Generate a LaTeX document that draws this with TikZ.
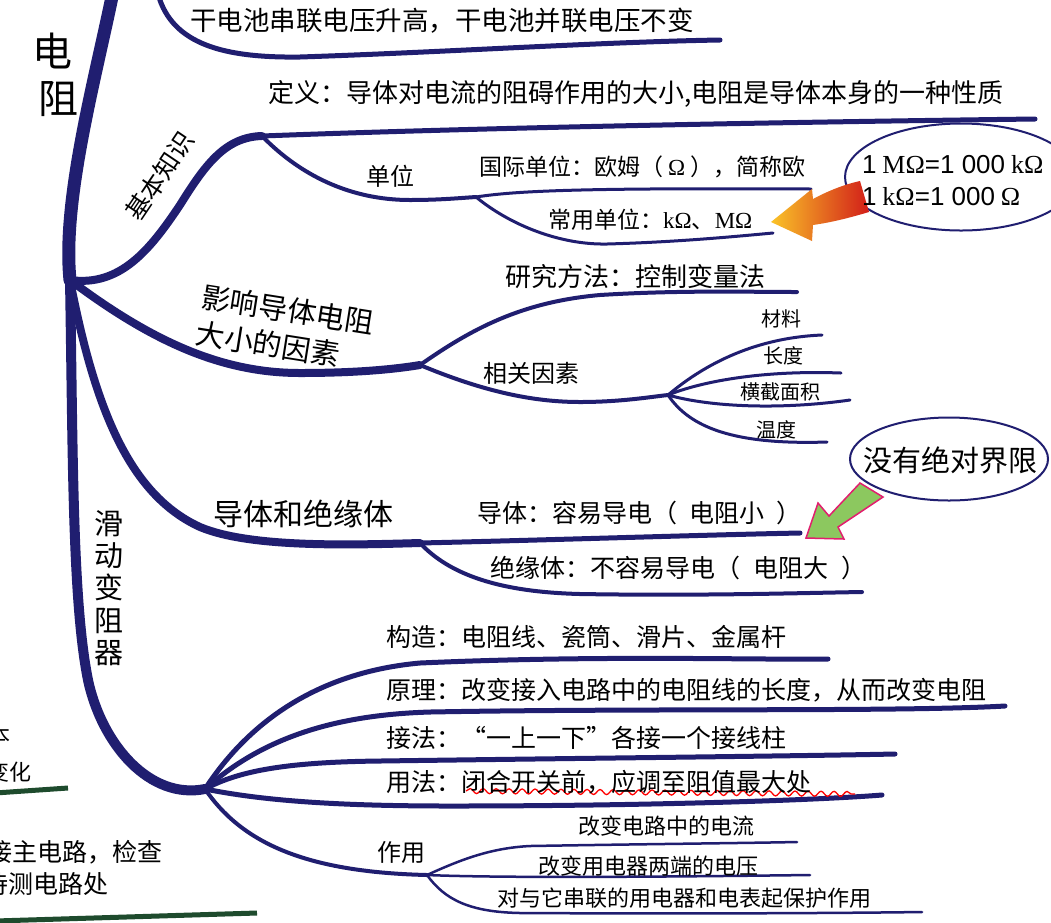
\documentclass[tikz,border=0pt]{standalone}
\usepackage{fontspec}
\setmainfont{Noto Sans CJK SC}
\newfontfamily\tms{Liberation Serif}
\newfontfamily\ars{Liberation Sans}
\usetikzlibrary{shapes.geometric,decorations.pathmorphing}
\newcommand{\fsz}[1]{\fontsize{#1}{#1}\selectfont}
\definecolor{lineblue}{RGB}{32,30,112}
\definecolor{dgreen}{RGB}{30,75,45}
\definecolor{agreen}{RGB}{140,200,95}
\definecolor{amag}{RGB}{225,30,110}
\definecolor{ared}{RGB}{210,30,25}
\definecolor{ayel}{RGB}{250,195,40}
\tikzset{
  trunk/.style={draw=lineblue, line width=13pt, line cap=round},
  trunkb/.style={draw=lineblue, line width=10pt, line cap=round},
  br/.style={draw=lineblue, line width=8pt, line cap=round},
  sub/.style={draw=lineblue, line width=5pt, line cap=round},
  subf/.style={draw=lineblue, line width=4pt, line cap=round},
  thn/.style={draw=lineblue, line width=3pt, line cap=round},
  hair/.style={draw=lineblue, line width=2.5pt, line cap=round},
  gline/.style={draw=dgreen, line width=5pt},
  lbl/.style={inner sep=0pt, anchor=west, text=black},
  ctr/.style={inner sep=0pt, text=black},
  oval/.style={draw=lineblue, line width=2pt, ellipse, inner sep=0pt},
}
\begin{document}
\begin{tikzpicture}[x=1pt,y=-1pt]
\useasboundingbox (0,0) rectangle (1051,922);
\clip (0,0) rectangle (1051,922);
\fill[white] (0,0) rectangle (1051,922);

% coordinates
\coordinate (top) at (113,-8);
\coordinate (hubA) at (70,280);
\coordinate (hubS) at (205,789);
\coordinate (jK) at (262,136);
\coordinate (defEnd) at (1035,119);
\coordinate (jU) at (476,197);
\coordinate (guoEnd) at (811,189);
\coordinate (changEnd) at (773,233);
\coordinate (jY) at (420,365);
\coordinate (yanEnd) at (797,292);
\coordinate (jX) at (668,395);
\coordinate (f1) at (822,335);
\coordinate (f2) at (841,373);
\coordinate (f3) at (850,400);
\coordinate (f4) at (827,442);
\coordinate (jD) at (420,543);
\coordinate (daoEnd) at (800,533);
\coordinate (jueEnd) at (862,592);
\coordinate (gzEnd) at (828,659);
\coordinate (ylEnd) at (1005,706);
\coordinate (jfEnd) at (895,754);
\coordinate (yfEnd) at (882,795);
\coordinate (jZ) at (427,875);
\coordinate (z1) at (797,842);
\coordinate (z2) at (810,875);
\coordinate (z3) at (922,912);
\coordinate (dcTop) at (158,-6);
\coordinate (dcEnd) at (720,40);
\coordinate (g1a) at (-5,793);
\coordinate (g1b) at (68,788);
\coordinate (g2a) at (-5,921);
\coordinate (g2b) at (257,913);
\coordinate (wv1) at (466,791);
\coordinate (wv2) at (855,794);

% trunk
\draw[trunk] (top) .. controls (95,80) and (62,200) .. (hubA);
\draw[trunkb] (hubA) .. controls (73,450) and (72,600) .. (88,680) .. controls (102,745) and (150,800) .. (hubS);

% top line
\draw[sub] (dcTop) .. controls (172,45) and (225,58) .. (300,57) .. controls (450,52) and (600,42) .. (dcEnd);

% basic knowledge
\draw[br] (hubA) .. controls (120,287) and (150,250) .. (180,205) .. controls (205,165) and (225,137) .. (jK);
\draw[sub] (jK) .. controls (500,127) and (800,122) .. (defEnd);
\draw[subf] (jK) .. controls (300,175) and (350,200) .. (410,200) .. controls (440,200) and (460,198) .. (jU);
\draw[thn] (jU) .. controls (520,190) and (600,188) .. (guoEnd);
\draw[thn] (jU) .. controls (510,225) and (560,245) .. (607,244) .. controls (680,242) and (740,236) .. (changEnd);

% factors
\draw[br] (hubA) .. controls (150,340) and (220,373) .. (300,373) .. controls (350,373) and (390,370) .. (jY);
\draw[subf] (jY) .. controls (470,330) and (520,302) .. (600,295) .. controls (680,290) and (750,292) .. (yanEnd);
\draw[subf] (jY) .. controls (480,390) and (530,402) .. (580,402) .. controls (620,402) and (650,397) .. (jX);
\draw[thn] (jX) .. controls (700,368) and (750,338) .. (f1);
\draw[thn] (jX) .. controls (700,382) and (760,370) .. (f2);
\draw[thn] (jX) .. controls (710,407) and (780,410) .. (f3);
\draw[thn] (jX) .. controls (690,428) and (735,445) .. (f4);

% conductors
\draw[br] (hubA) .. controls (95,410) and (130,495) .. (200,527) .. controls (250,548) and (350,545) .. (jD);
\draw[sub] (jD) .. controls (550,540) and (700,535) .. (daoEnd);
\draw[subf] (jD) .. controls (450,575) and (500,592) .. (580,594) .. controls (700,596) and (800,593) .. (jueEnd);

% rheostat
\draw[sub] (hubS) .. controls (250,720) and (320,672) .. (420,663) .. controls (600,655) and (750,660) .. (gzEnd);
\draw[sub] (hubS) .. controls (260,740) and (330,715) .. (430,712) .. controls (650,708) and (900,712) .. (ylEnd);
\draw[sub] (hubS) .. controls (240,770) and (290,762) .. (380,761) .. controls (600,758) and (800,756) .. (jfEnd);
\draw[sub] (hubS) .. controls (260,800) and (330,806) .. (450,806) .. controls (650,806) and (820,800) .. (yfEnd);
\draw[subf] (hubS) .. controls (240,840) and (300,872) .. (jZ);
\draw[hair] (jZ) .. controls (460,860) and (490,848) .. (530,846) .. controls (650,844) and (750,843) .. (z1);
\draw[hair] (jZ) .. controls (500,878) and (650,877) .. (z2);
\draw[hair] (jZ) .. controls (445,900) and (470,912) .. (520,913) .. controls (700,914) and (850,913) .. (z3);

% green lines (cut-off neighbour)
\draw[gline] (g1a) -- (g1b);
\draw[gline] (g2a) -- (g2b);

% red wavy underline
\draw[red, line width=1.3pt, decorate, decoration={snake, amplitude=2.5pt, segment length=13pt}] (wv1) -- (wv2);

% ovals
\node[oval, minimum width=232pt, minimum height=107pt] (ellA) at (961,177) {};
\node[oval, minimum width=198pt, minimum height=83pt] (ellB) at (949,459) {};

% arrows
\shade[left color=ayel, right color=ared] (860,181) .. controls (842,185) and (826,192) .. (813,199) -- (812,189) -- (771,222) -- (812,241) -- (813,225) .. controls (834,222) and (852,217) .. (869,212) -- cycle;
\filldraw[fill=agreen, draw=amag, line width=1.5pt, line join=miter] (860,483) -- (829,516) -- (818,503) -- (806,538) -- (844,539) -- (838,527) -- (883,497) -- cycle;

% texts
\node[lbl, font=\fsz{26.5}] (dc) at (190,21) {干电池串联电压升高，干电池并联电压不变};
\node[lbl, font=\fontsize{40}{47}\selectfont, align=left] (title) at (32,75) {电\\\hspace{6pt}阻};
\node[lbl, font=\fsz{26}] (def) at (268,94) {定义：导体对电流的阻碍作用的大小,电阻是导体本身的一种性质};
\node[ctr, font=\fsz{25}, rotate=56] (jb) at (160,176) {基本知识};
\node[lbl, font=\fsz{24}] (dw) at (366,176) {单位};
\node[lbl, font=\fsz{23}] (gj) at (479,167) {国际单位：欧姆（\hspace{5pt}{\tms Ω}\hspace{5pt}），简称欧};
\node[lbl, font=\fsz{23}] (cy) at (548,220) {常用单位：{\tms kΩ}、{\tms MΩ}};
\node[lbl, font=\fontsize{26}{32}\selectfont, align=left] (conv) at (862,181) {{\ars 1} {\tms MΩ}{\ars =1 000} {\tms kΩ}\\{\ars 1} {\tms kΩ}{\ars =1 000} {\tms Ω}};
\node[ctr, font=\fontsize{29}{37}\selectfont, align=left, rotate=-9] (yx) at (285,328) {影响导体电阻\\大小的因素};
\node[lbl, font=\fsz{26}] (yj) at (505,277) {研究方法：控制变量法};
\node[lbl, font=\fsz{24}] (xg) at (483,373) {相关因素};
\node[ctr, font=\fsz{20}] (cl) at (781,319) {材料};
\node[ctr, font=\fsz{20}] (cd) at (783,356) {长度};
\node[ctr, font=\fsz{20}] (hj) at (780,392) {横截面积};
\node[ctr, font=\fsz{20}] (wd) at (776,430) {温度};
\node[ctr, font=\fsz{29}] (wjx) at (950,460) {没有绝对界限};
\node[lbl, font=\fsz{30}] (dj) at (213,514) {导体和绝缘体};
\node[lbl, font=\fsz{25}] (dt) at (477,513) {导体：容易导电（\hspace{12pt}电阻小\hspace{12pt}）};
\node[lbl, font=\fsz{25}] (jyt) at (490,568) {绝缘体：不容易导电（\hspace{13pt}电阻大\hspace{13pt}）};
\node[ctr, font=\fontsize{29}{32.3}\selectfont, align=center] (hd) at (109,588) {滑\\动\\变\\阻\\器};
\node[lbl, font=\fsz{25}] (gz) at (386,637) {构造：电阻线、瓷筒、滑片、金属杆};
\node[lbl, font=\fsz{25}] (yl) at (386,690) {原理：改变接入电路中的电阻线的长度，从而改变电阻};
\node[lbl, font=\fsz{25}] (jf) at (386,738) {接法：“一上一下”各接一个接线柱};
\node[lbl, font=\fsz{25}] (yf) at (386,782) {用法：闭合开关前，应调至阻值最大处};
\node[lbl, font=\fsz{24}] (zy) at (377,852) {作用};
\node[lbl, font=\fsz{22}] (zy1) at (578,826) {改变电路中的电流};
\node[lbl, font=\fsz{22}] (zy2) at (538,866) {改变用电器两端的电压};
\node[lbl, font=\fsz{22}] (zy3) at (497,898) {对与它串联的用电器和电表起保护作用};
\node[ctr, font=\fsz{22}, anchor=east] (p1) at (11,735) {本};
\node[ctr, font=\fsz{22}, anchor=east] (p2) at (32,772) {变化};
\node[ctr, font=\fsz{25}, anchor=east] (p3) at (163,852) {接主电路，检查};
\node[ctr, font=\fsz{25}, anchor=east] (p4) at (109,884) {待测电路处};
\end{tikzpicture}
\end{document}
